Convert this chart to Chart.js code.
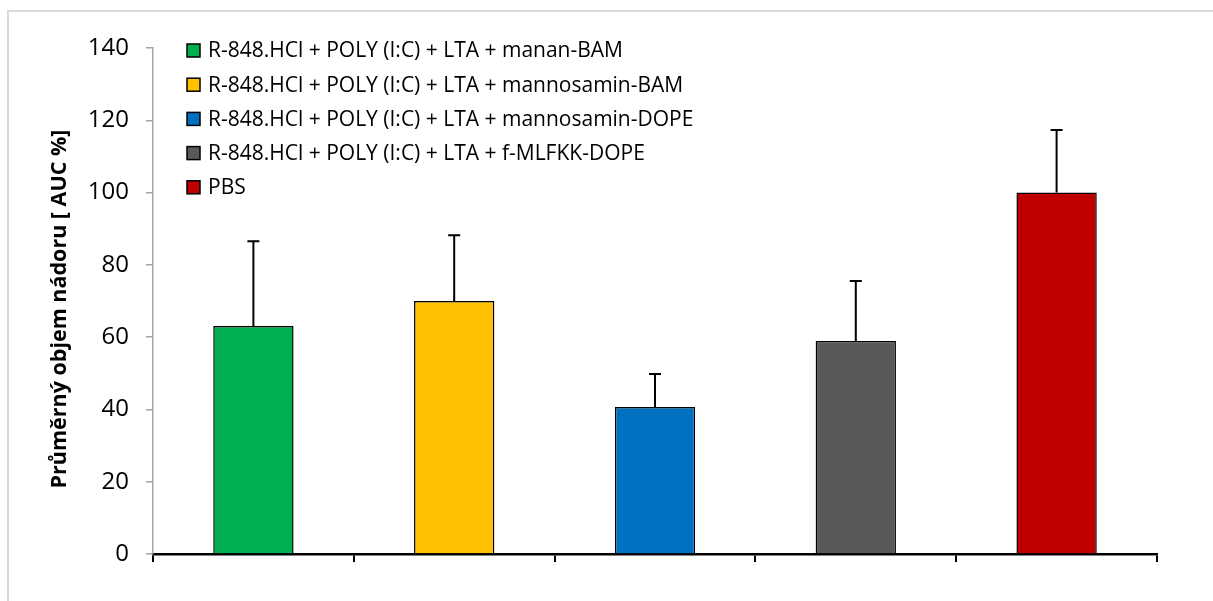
<!DOCTYPE html>
<html>
<head>
<meta charset="utf-8">
<script src="https://cdn.jsdelivr.net/npm/chart.js@4/dist/chart.umd.min.js"></script>
<style>
  html, body { margin: 0; padding: 0; background: #fff; }
  #wrap { position: relative; width: 1213px; height: 601px; overflow: hidden; }
  #frame { position: absolute; left: 7px; top: 10px; width: 1220px; height: 600px; border-left: 2px solid #d9d9d9; border-top: 2px solid #d9d9d9; box-sizing: border-box; pointer-events: none; }
  canvas { position: absolute; left: 0; top: 0; }
</style>
</head>
<body>
<div id="wrap">
  <canvas id="c" width="1213" height="601"></canvas>
  <div id="frame"></div>
</div>
<script>
const categories = [
  "R-848.HCl + POLY (I:C) + LTA + manan-BAM",
  "R-848.HCl + POLY (I:C) + LTA + mannosamin-BAM",
  "R-848.HCl + POLY (I:C) + LTA + mannosamin-DOPE",
  "R-848.HCl + POLY (I:C) + LTA + f-MLFKK-DOPE",
  "PBS"
];
const means = [63.1, 70.0, 40.7, 58.9, 100.0];
const errorsPlus = [23.4, 18.2, 9.1, 16.6, 17.3];
const colors = ["#00B050", "#FFC000", "#0070C0", "#595959", "#C00000"];
const yTitle = "Průměrný objem nádoru [ AUC %]";
const yTicks = [0, 20, 40, 60, 80, 100, 120, 140];

const FONT = "'Open Sans', 'Liberation Sans', sans-serif";

const errorBarPlugin = {
  id: 'errorBars',
  afterDatasetsDraw(chart) {
    const ctx = chart.ctx;
    const meta = chart.getDatasetMeta(0);
    const y = chart.scales.y;
    ctx.save();
    ctx.strokeStyle = '#000';
    ctx.lineWidth = 2;
    meta.data.forEach((bar, i) => {
      const x = bar.x;
      const top = y.getPixelForValue(means[i] + errorsPlus[i]);
      const base = y.getPixelForValue(means[i]);
      ctx.beginPath();
      ctx.moveTo(x, base);
      ctx.lineTo(x, top);
      ctx.moveTo(x - 6, top);
      ctx.lineTo(x + 6, top);
      ctx.stroke();
    });
    ctx.restore();
  }
};

const legendPlugin = {
  id: 'insideLegend',
  afterDraw(chart) {
    const ctx = chart.ctx;
    const left = 187, top0 = 50.5, step = 34.2, box = 13;
    ctx.save();
    ctx.font = "21px " + FONT;
    ctx.textBaseline = 'middle';
    categories.forEach((name, i) => {
      const cy = top0 + i * step;
      ctx.fillStyle = colors[i];
      ctx.fillRect(left, cy - box / 2, box, box);
      ctx.strokeStyle = '#000';
      ctx.lineWidth = 1.5;
      ctx.strokeRect(left, cy - box / 2, box, box);
      ctx.fillStyle = '#000';
      ctx.fillText(name, left + 21, cy + 1);
    });
    ctx.restore();
  }
};

const yTitlePlugin = {
  id: 'yTitle',
  afterDraw(chart) {
    const ctx = chart.ctx;
    ctx.save();
    ctx.translate(60, 309);
    ctx.rotate(-Math.PI / 2);
    ctx.font = "bold 21.5px " + FONT;
    ctx.fillStyle = '#000';
    ctx.textAlign = 'center';
    ctx.textBaseline = 'middle';
    ctx.fillText(yTitle, 0, 0);
    ctx.restore();
  }
};

new Chart(document.getElementById('c'), {
  type: 'bar',
  data: {
    labels: categories,
    datasets: [{
      data: means,
      backgroundColor: colors,
      borderColor: '#000',
      borderWidth: 1.5,
      barPercentage: 0.4,
      categoryPercentage: 1.0
    }]
  },
  options: {
    responsive: false,
    animation: false,
    devicePixelRatio: 1,
    layout: { padding: { left: 0, right: 56, top: 48, bottom: 0 } },
    plugins: { legend: { display: false }, tooltip: { enabled: false } },
    scales: {
      x: {
        offset: true,
        grid: { offset: true, drawOnChartArea: false, drawTicks: true, tickLength: 8, color: '#000', lineWidth: 2 },
        border: { display: true, color: '#000', width: 2.5 },
        ticks: { display: false },
        afterFit(scale) { scale.height = 47; }
      },
      y: {
        min: 0,
        max: 140,
        afterBuildTicks(scale) { scale.ticks = yTicks.map(v => ({ value: v })); },
        grid: { drawOnChartArea: false, drawTicks: true, tickLength: 7, color: '#a6a6a6', lineWidth: 1.5 },
        border: { display: true, color: '#a6a6a6', width: 1.5 },
        ticks: { color: '#000', font: { family: FONT, size: 24 }, padding: 17 },
        title: { display: false },
        afterFit(scale) { scale.width = 153; }
      }
    }
  },
  plugins: [errorBarPlugin, legendPlugin, yTitlePlugin]
});
</script>
</body>
</html>
